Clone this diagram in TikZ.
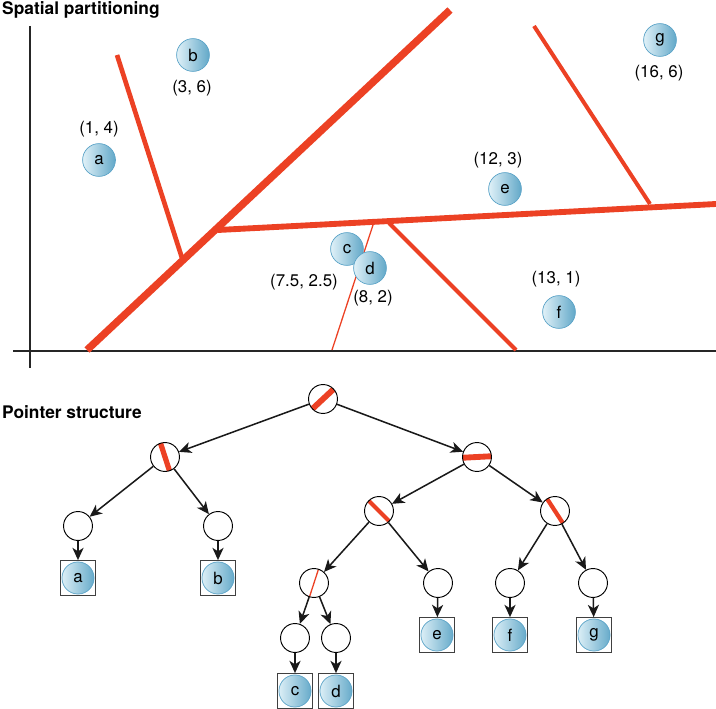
\documentclass[tikz,border=0pt]{standalone}
\usepackage{fontspec}
\setmainfont{TeX Gyre Heros}
\usetikzlibrary{arrows.meta, positioning}
\definecolor{splitred}{RGB}{236,65,36}
\definecolor{ballhi}{RGB}{224,241,248}
\definecolor{balllo}{RGB}{98,168,200}
\definecolor{ballrim}{RGB}{92,164,200}
\tikzstyle{title} = [anchor=base west, inner sep=0pt, font=\bfseries\fontsize{14.8}{17}\selectfont]
\tikzstyle{coord} = [inner sep=0pt, font=\fontsize{14.4}{16}\selectfont]
\tikzstyle{pt}    = [circle, minimum size=28pt, inner sep=0pt, draw=ballrim, line width=0.6pt, left color=ballhi, right color=balllo, font=\fontsize{14.4}{16}\selectfont]
\tikzstyle{split} = [circle, minimum size=24.7pt, inner sep=0pt, draw=black, line width=0.8pt, fill=white]
\tikzstyle{leaf}  = [rectangle, minimum size=29.8pt, inner sep=0pt, draw=black!75, line width=0.7pt, font=\fontsize{14.4}{16}\selectfont,
  path picture={\shadedraw[left color=ballhi, right color=balllo, draw=ballrim, line width=0.6pt] (path picture bounding box.center) circle (13.7pt);}]
\tikzstyle{arrow} = [line width=1.3pt, black!90, -{Stealth[length=10.5pt,width=9.5pt,inset=3pt]}]
\tikzset{bar/.style 2 args={path picture={\draw[splitred, line width=#2] ([shift={(#1:14pt)}]path picture bounding box.center) -- ([shift={(#1+180:14pt)}]path picture bounding box.center);}}}

\begin{document}
\begin{tikzpicture}[x=0.03cm, y=-0.03cm]
  \useasboundingbox (0,0) rectangle (716,709);

  % Spatial partitioning
  \node[title] (ttop) at (2,15) {Spatial partitioning};
  \draw[line width=1.1pt, black!85] (30,26) -- (30,368);
  \draw[line width=1.1pt, black!85] (13,351) -- (716,351);

  \draw[splitred, line width=6.3pt] (87,350) -- (450,10);
  \draw[splitred, line width=4pt] (182,258) -- (117,55);
  \draw[splitred, line width=5pt] (218,230) -- (716,204);
  \draw[splitred, line width=3.4pt] (650,204) -- (534,26);
  \draw[splitred, line width=3.4pt] (389,223) -- (516,350);
  \draw[splitred, line width=1.1pt] (373,225) -- (332,350);

  \node[pt] (pa) at (99,160) {a};
  \node[pt] (pb) at (193,55) {b};
  \node[pt] (pc) at (347,249) {c};
  \node[pt] (pd) at (370,268) {d};
  \node[pt] (pe) at (505,189) {e};
  \node[pt] (pf) at (559,312) {f};
  \node[pt] (pg) at (660,40) {g};

  \node[coord] (ca) at (99,129) {(1, 4)};
  \node[coord] (cb) at (192,88) {(3, 6)};
  \node[coord] (cc) at (304,282) {(7.5, 2.5)};
  \node[coord] (cd) at (373,298) {(8, 2)};
  \node[coord] (ce) at (498,160) {(12, 3)};
  \node[coord] (cf) at (556,279) {(13, 1)};
  \node[coord] (cg) at (659,73) {(16, 6)};

  % Pointer structure
  \node[title] (tbot) at (2,419) {Pointer structure};

  \node[split, bar={43}{5pt}] (root) at (323,399) {};
  \node[split, bar={108}{4.5pt}] (nL) at (165,457) {};
  \node[split, bar={3}{5pt}] (nR) at (477,457) {};
  \node[split] (nLL) at (78,526) {};
  \node[split] (nLR) at (218,526) {};
  \node[split, bar={-45}{3.6pt}] (nRL) at (379,511) {};
  \node[split, bar={123}{3.6pt}] (nRR) at (555,511) {};
  \node[split, bar={72}{1.1pt}] (nRLL) at (314,583) {};
  \node[split] (nRLR) at (438,583) {};
  \node[split] (nRRL) at (510,583) {};
  \node[split] (nRRR) at (593,583) {};
  \node[split] (nRLLL) at (295,638) {};
  \node[split] (nRLLR) at (336,638) {};

  \node[leaf] (ta) at (78,578) {a};
  \node[leaf] (tb) at (218,578) {b};
  \node[leaf] (tc) at (295,691) {c};
  \node[leaf] (td) at (336,691) {d};
  \node[leaf] (te) at (437,635) {e};
  \node[leaf] (tf) at (510,635) {f};
  \node[leaf] (tg) at (594,635) {g};

  \draw[arrow] (root) -- (nL);
  \draw[arrow] (root) -- (nR);
  \draw[arrow] (nL) -- (nLL);
  \draw[arrow] (nL) -- (nLR);
  \draw[arrow] (nLL) -- (ta);
  \draw[arrow] (nLR) -- (tb);
  \draw[arrow] (nR) -- (nRL);
  \draw[arrow] (nR) -- (nRR);
  \draw[arrow] (nRL) -- (nRLL);
  \draw[arrow] (nRL) -- (nRLR);
  \draw[arrow] (nRLL) -- (nRLLL);
  \draw[arrow] (nRLL) -- (nRLLR);
  \draw[arrow] (nRLLL) -- (tc);
  \draw[arrow] (nRLLR) -- (td);
  \draw[arrow] (nRLR) -- (te);
  \draw[arrow] (nRR) -- (nRRL);
  \draw[arrow] (nRR) -- (nRRR);
  \draw[arrow] (nRRL) -- (tf);
  \draw[arrow] (nRRR) -- (tg);

\end{tikzpicture}
\end{document}
